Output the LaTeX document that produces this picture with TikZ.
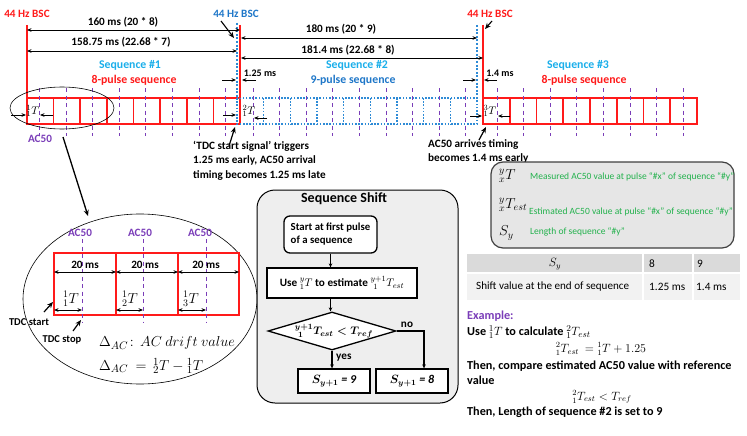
\documentclass[tikz,border=0pt]{standalone}
\usepackage{fontspec}
\setmainfont{Carlito}
\usetikzlibrary{arrows.meta,shapes.geometric,calc}
\definecolor{cred}{HTML}{FF1A1A}
\definecolor{cblue}{HTML}{2E8BD6}
\definecolor{cdblue}{HTML}{1F77C8}
\definecolor{ccyan}{HTML}{1AAEEA}
\definecolor{cpurple}{HTML}{7A3DB8}
\definecolor{cgreen}{HTML}{22B14C}
\definecolor{cpanel}{HTML}{EEEEEE}
\definecolor{clegend}{HTML}{E6E6E6}
\definecolor{cthead}{HTML}{DADADA}
\definecolor{ctrow}{HTML}{F2F2F2}
\newcommand\fz[2]{\fontsize{#1}{#2}\selectfont}
\newcommand\sk{\mskip 6mu}
\tikzset{
 redbox/.style={draw=cred,line width=1.6pt},
 bluebox/.style={draw=cblue,line width=1.6pt,dash pattern=on 1.6pt off 1.6pt},
 redv/.style={draw=cred,line width=1.3pt},
 bluev/.style={draw=cblue,line width=1.5pt,dash pattern=on 2pt off 1.6pt},
 acdash/.style={draw=cpurple,line width=1pt,dash pattern=on 4pt off 3.5pt},
 dimarr/.style={{Stealth[length=4.5pt,width=3.6pt]}-{Stealth[length=4.5pt,width=3.6pt]},line width=0.8pt},
 onearr/.style={-{Stealth[length=4.5pt,width=3.6pt]},line width=0.8pt},
 ptr/.style={-{Stealth[length=6pt,width=5pt]},line width=1.4pt},
 txt/.style={inner sep=0pt,font=\bfseries\fz{11.2}{13}},
 seqtxt/.style={inner sep=0pt,font=\bfseries\fz{11.8}{14}},
 mathlbl/.style={inner sep=0pt,font=\fz{11}{13}},
 fbox/.style={draw,line width=1.3pt,fill=white,inner sep=2pt},
 farrow/.style={-{Stealth[length=4pt,width=3.6pt]},line width=1.2pt},
 gtxt/.style={inner sep=0pt,anchor=west,text=cgreen,font=\fz{9.5}{11}},
 extxt/.style={inner sep=0pt,anchor=west,font=\bfseries\fz{12.2}{14}},
}
\begin{document}
\begin{tikzpicture}[x=1pt,y=-1pt]
\useasboundingbox (0,0) rectangle (747,436);

% ---------------- sequences
\draw[redbox] (27,98) rectangle (240,124);
\foreach \i in {1,...,7} \draw[redbox] ({27+\i*26.625},98) -- ++(0,26);
\draw[bluebox] (237,98) rectangle (477,124);
\foreach \i in {1,...,8} \draw[bluebox] ({237+\i*26.667},98) -- ++(0,26);
\draw[redbox] (483,98) rectangle (697,124);
\foreach \i in {1,...,7} \draw[redbox] ({483+\i*26.75},98) -- ++(0,26);

\foreach \i in {0,...,7} \draw[acdash] ({39.5+\i*26.6},88) -- ++(0,48);
\foreach \i in {0,...,8} \draw[acdash] ({253+\i*26.6},88) -- ++(0,48);
\foreach \i in {0,...,7} \draw[acdash] ({497+\i*26.6},88) -- ++(0,48);

% verticals
\coordinate (r1t) at (27,25); \coordinate (r1b) at (27,98);
\coordinate (r2t) at (240,25); \coordinate (r2b) at (240,98);
\coordinate (r3t) at (483,25); \coordinate (r3b) at (483,98);
\coordinate (b1t) at (237,23); \coordinate (b1b) at (237,98);
\coordinate (b2t) at (477,25); \coordinate (b2b) at (477,98);
\draw[redv] (r1t) -- (r1b);
\draw[redv] (r2t) -- (r2b);
\draw[redv] (r3t) -- (r3b);
\draw[bluev] (b1t) -- (b1b);
\draw[bluev] (b2t) -- (b2b);

% BSC labels
\node[txt,text=cred] (bsc1) at (27,14) {44 Hz BSC};
\node[txt,text=cdblue] (bsc2) at (236,14) {44 Hz BSC};
\node[txt,text=cred] (bsc3) at (490,14) {44 Hz BSC};
\coordinate (p2s) at (221,21); \coordinate (p2e) at (234,38);
\coordinate (p3s) at (492,21); \coordinate (p3e) at (485,29);
\draw[ptr,line width=1.1pt] (p2s) -- (p2e);
\draw[ptr,line width=1.1pt] (p3s) -- (p3e);

% dimension lines
\coordinate (d1a) at (27,30); \coordinate (d1b) at (240,30);
\coordinate (d2a) at (27,51); \coordinate (d2b) at (237,51);
\coordinate (d3a) at (241,38); \coordinate (d3b) at (477,38);
\coordinate (d4a) at (241,58); \coordinate (d4b) at (483,58);
\draw[dimarr] (d1a) -- (d1b);
\draw[dimarr] (d2a) -- (d2b);
\draw[dimarr] (d3a) -- (d3b);
\draw[dimarr] (d4a) -- (d4b);
\node[txt] (l160) at (123,22) {160 ms (20 * 8)};
\node[txt] (l158) at (121,42) {158.75 ms (22.68 * 7)};
\node[txt] (l180) at (341,29) {180 ms (20 * 9)};
\node[txt] (l181) at (348,50) {181.4 ms (22.68 * 8)};

% shift markers
\coordinate (s1a) at (222,80); \coordinate (s1b) at (236,80);
\coordinate (s1c) at (256,80); \coordinate (s1d) at (242,80);
\draw[onearr] (s1a) -- (s1b);
\draw[onearr] (s1c) -- (s1d);
\node[txt,font=\bfseries\fz{10}{12}] (l125) at (260,73) {1.25 ms};
\coordinate (s2a) at (463,80); \coordinate (s2b) at (476,80);
\coordinate (s2c) at (497,80); \coordinate (s2d) at (484,80);
\draw[onearr] (s2a) -- (s2b);
\draw[onearr] (s2c) -- (s2d);
\node[txt,font=\bfseries\fz{10}{12}] (l14) at (500,73) {1.4 ms};

% sequence titles
\node[seqtxt,text=ccyan] (sq1) at (130,65) {Sequence \#1};
\node[seqtxt,text=cred] (sp1) at (134,80) {8-pulse sequence};
\node[seqtxt,text=ccyan] (sq2) at (357,65) {Sequence \#2};
\node[seqtxt,text=cdblue] (sp2) at (353,80) {9-pulse sequence};
\node[seqtxt,text=ccyan] (sq3) at (578,65) {Sequence \#3};
\node[seqtxt,text=cred] (sp3) at (584,80) {8-pulse sequence};

% T markers in boxes
\node[mathlbl] (t1) at (33,111) {$^{1}_{1}T$};
\node[mathlbl] (t2) at (249,111) {$^{2}_{1}T$};
\node[mathlbl] (t3) at (490,111) {$^{3}_{1}T$};
\coordinate (m1a) at (11,115); \coordinate (m1b) at (26,115);
\coordinate (m1c) at (53,115); \coordinate (m1d) at (40,115);
\coordinate (m2a) at (223,115); \coordinate (m2b) at (236,115);
\coordinate (m2c) at (267,118); \coordinate (m2d) at (254,118);
\coordinate (m3a) at (470,116); \coordinate (m3b) at (482,116);
\coordinate (m3c) at (510,116); \coordinate (m3d) at (498,116);
\draw[onearr] (m1a) -- (m1b);
\draw[onearr] (m1c) -- (m1d);
\draw[onearr] (m2a) -- (m2b);
\draw[onearr] (m2c) -- (m2d);
\draw[onearr] (m3a) -- (m3b);
\draw[onearr] (m3c) -- (m3d);

% small ellipse + AC50
\node[draw,ellipse,line width=0.6pt,minimum width=104pt,minimum height=42pt,inner sep=0] (ell1) at (62,108) {};
\node[txt,text=cpurple] (ac0) at (40,139) {AC50};

% annotations
\coordinate (a1s) at (229,146); \coordinate (a1e) at (235,127);
\draw[ptr,line width=1.2pt] (a1s) -- (a1e);
\node[txt,anchor=north west,align=left,font=\bfseries\fz{11.2}{14.5}] (ann1) at (193,141) {‘TDC start signal’ triggers\\1.25 ms early, AC50 arrival\\timing becomes 1.25 ms late};
\coordinate (a2s) at (479,140); \coordinate (a2e) at (486,127);
\draw[ptr,line width=1.2pt] (a2s) -- (a2e);
\node[txt,anchor=north west,align=left,font=\bfseries\fz{11.2}{14}] (ann2) at (428,139) {AC50 arrives timing\\becomes 1.4 ms early};

% ---------------- zoom detail
\coordinate (zs) at (63,137); \coordinate (ze) at (88,216);
\draw[ptr,line width=1.3pt] (zs) -- (ze);
\node[draw,ellipse,line width=0.6pt,minimum width=234pt,minimum height=170pt,inner sep=0] (ell2) at (140,299) {};
\draw[redbox] (54,253) rectangle (239,315);
\draw[redbox] (116,253) -- (116,315);
\draw[redbox] (178,253) -- (178,315);
\foreach \x in {82,143,206} \draw[acdash] (\x,239) -- (\x,323);
\node[txt,text=cpurple] (ac1) at (80,233) {AC50};
\node[txt,text=cpurple] (ac2) at (140,233) {AC50};
\node[txt,text=cpurple] (ac3) at (200,233) {AC50};
\node[txt] (ms1) at (85,265) {20 ms};
\node[txt] (ms2) at (145,265) {20 ms};
\node[txt] (ms3) at (206,265) {20 ms};
\coordinate (w0) at (54,272); \coordinate (w1) at (116,272);
\coordinate (w2) at (178,272); \coordinate (w3) at (239,272);
\draw[dimarr] (w0) -- (w1);
\draw[dimarr] (w1) -- (w2);
\draw[dimarr] (w2) -- (w3);
\node[mathlbl,font=\fz{14}{16}] (bt1) at (71,299) {$^{1}_{1}T$};
\node[mathlbl,font=\fz{14}{16}] (bt2) at (130,299) {$^{1}_{2}T$};
\node[mathlbl,font=\fz{14}{16}] (bt3) at (191,299) {$^{1}_{3}T$};
\coordinate (v0) at (54,310); \coordinate (v1) at (82,310);
\coordinate (v2) at (116,310); \coordinate (v3) at (143,310);
\coordinate (v4) at (178,310); \coordinate (v5) at (206,310);
\draw[dimarr] (v0) -- (v1);
\draw[dimarr] (v2) -- (v3);
\draw[dimarr] (v4) -- (v5);
\node[txt,font=\bfseries\fz{10.5}{12}] (tdcs) at (29,322) {TDC start};
\node[txt,font=\bfseries\fz{10.5}{12}] (tdcp) at (62,340) {TDC stop};
\coordinate (q1s) at (44,312); \coordinate (q1e) at (53,302);
\coordinate (q2s) at (73,331); \coordinate (q2e) at (81,320);
\draw[ptr,line width=1.2pt] (q1s) -- (q1e);
\draw[ptr,line width=1.2pt] (q2s) -- (q2e);
\node[inner sep=0,anchor=west,font=\fz{15}{18}] (dl1) at (99,343) {$\Delta_{AC}\!:\,AC\ drift\ value$};
\node[inner sep=0,anchor=west,font=\fz{15}{18}] (dl2) at (99,366) {$\Delta_{AC}\ =\, {}^{1}_{2}T-{}^{1}_{1}T$};

% ---------------- Sequence Shift panel
\node[draw,line width=1pt,fill=cpanel,rounded corners=18pt,minimum width=201pt,minimum height=213pt,inner sep=0] (panel) at (357.5,296.5) {};
\node[txt,font=\bfseries\fz{14}{16}] (sstitle) at (344,199) {Sequence Shift};
\node[fbox,rounded corners=6pt,minimum width=93pt,minimum height=37pt,align=left,font=\bfseries\fz{10.8}{13}] (start) at (330.5,234.5) {Start at first pulse\\of a sequence};
\node[fbox,minimum width=150pt,minimum height=30pt,inner sep=1pt,font=\bfseries\fz{11.2}{13}] (use) at (342,283) {Use $^{y}_{1}T$ to estimate ${}^{y+1}_{\sk 1}T_{est}$};
\node[draw,diamond,line width=1.3pt,fill=white,aspect=3.37,minimum width=128pt,minimum height=38pt,inner sep=0] (diam) at (332,331) {};
\node[inner sep=0,font={\boldmath\fz{11}{13}}] (diamtxt) at (334,331) {${}^{y+1}_{\sk 1}T_{est} < T_{ref}$};
\node[fbox,minimum width=72pt,minimum height=24pt,font={\boldmath\bfseries\itshape\fz{12}{14}}] (b9) at (334,381) {$S_{y+1}$ = 9};
\node[fbox,minimum width=72pt,minimum height=24pt,font={\boldmath\bfseries\itshape\fz{12}{14}}] (b8) at (412,381) {$S_{y+1}$ = 8};
\draw[farrow] (start.south) -- (start.south |- use.north);
\draw[farrow] (use.south -| start.south) -- (diam.north -| start.south);
\draw[farrow] (diam.south) -- (diam.south |- b9.north);
\coordinate (nocorner) at (424,331);
\draw[farrow] (diam.east) -- (nocorner) -- (nocorner |- b8.north);
\node[txt] (nolbl) at (407,325) {no};
\node[txt,anchor=west] (yeslbl) at (336,358) {yes};

% ---------------- legend
\node[draw=black!75,line width=1.2pt,fill=clegend,rounded corners=12pt,minimum width=243pt,minimum height=86pt,inner sep=0] (legend) at (612.5,205) {};
\node[inner sep=0,anchor=west,font=\fz{14}{16}] (lg1s) at (499,176) {$^{y}_{x}T$};
\node[gtxt] (lg1t) at (530,177) {Measured AC50 value at pulse “\#x” of sequence “\#y”};
\node[inner sep=0,anchor=west,font=\fz{14}{16}] (lg2s) at (499,205) {$^{y}_{x}T_{est}$};
\node[gtxt] (lg2t) at (529,212) {Estimated AC50 value at pulse “\#x” of sequence “\#y”};
\node[inner sep=0,anchor=west,font=\fz{14}{16}] (lg3s) at (499,233) {$S_{y}$};
\node[gtxt] (lg3t) at (530,232) {Length of sequence “\#y”};

% ---------------- table
\fill[cthead] (467,254) rectangle (740,273);
\fill[ctrow] (467,273) rectangle (740,300);
\draw[white,line width=1.5pt] (643,254) -- (643,300);
\draw[white,line width=1.5pt] (693,254) -- (693,300);
\draw[white,line width=1.5pt] (467,273) -- (740,273);
\node[inner sep=0,font=\fz{12}{14}] (th1) at (555,264) {$S_y$};
\node[inner sep=0,anchor=west,font=\fz{11.3}{13}] (th2) at (649,264) {8};
\node[inner sep=0,anchor=west,font=\fz{11.3}{13}] (th3) at (697,264) {9};
\node[inner sep=0,anchor=west,font=\fz{11.1}{13}] (tr1) at (476,287) {Shift value at the end of sequence};
\node[inner sep=0,anchor=west,font=\fz{11.3}{13}] (tr2) at (649,287) {1.25 ms};
\node[inner sep=0,anchor=west,font=\fz{11.3}{13}] (tr3) at (696,287) {1.4 ms};

% ---------------- example
\node[extxt,text=cpurple] (ex0) at (467,316) {Example:};
\node[extxt] (ex1) at (467,332) {Use \mdseries$^{1}_{1}T$ \bfseries to calculate \mdseries$^{2}_{1}T_{est}$};
\node[inner sep=0,font=\fz{11.5}{13}] (ex2) at (601,349) {$^{2}_{1}T_{est}\ = {}^{1}_{1}T+1.25$};
\node[extxt] (ex3) at (467,366) {Then, compare estimated AC50 value with reference};
\node[extxt] (ex4) at (467,380) {value};
\node[inner sep=0,font=\fz{11.5}{13}] (ex5) at (602,397) {$^{2}_{1}T_{est} \mathrel{<} T_{ref}$};
\node[extxt] (ex6) at (467,412) {Then, Length of sequence \#2 is set to 9};
\end{tikzpicture}
\end{document}
